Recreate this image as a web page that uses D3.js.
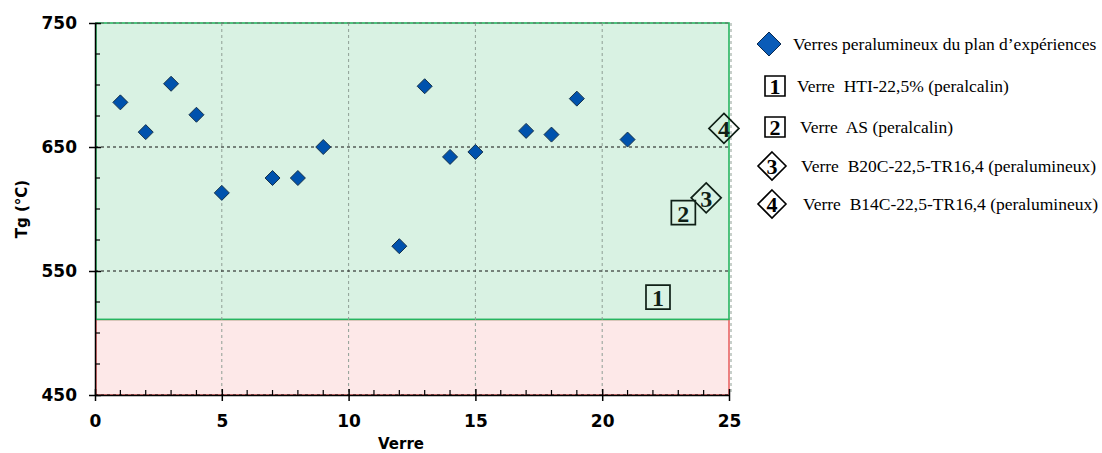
<!DOCTYPE html>
<html>
<head>
<meta charset="utf-8">
<script src="https://cdn.jsdelivr.net/npm/d3@7"></script>
<style>
  html, body { margin: 0; padding: 0; background: #fff; }
  svg { display: block; }
</style>
</head>
<body>
<svg id="chart" width="1102" height="453"></svg>
<script>
// ---- data ----
const verres = [1, 2, 3, 4, 5, 7, 8, 9, 12, 13, 14, 15, 17, 18, 19, 21];
const tgValues = [686, 662, 701, 676, 613, 625, 625, 650, 570, 699, 642, 646, 663, 660, 689, 656];

const refLabels = ["1", "2", "3", "4"];
const refX = [22.2, 23.2, 24.1, 24.8];
const refTg = [529, 597, 609, 665];
const refShapes = ["square", "square", "diamond", "diamond"];

const legendTexts = [
  "Verres peralumineux du plan d\u2019expériences",
  "Verre  HTI-22,5% (peralcalin)",
  "Verre  AS (peralcalin)",
  "Verre  B20C-22,5-TR16,4 (peralumineux)",
  "Verre  B14C-22,5-TR16,4 (peralumineux)"
];

const xTicks = [0, 5, 10, 15, 20, 25];
const yTicks = [450, 550, 650, 750];
const greenZone = [511, 750];
const redZone = [450, 511];

// ---- layout ----
const svg = d3.select("#chart");
const mLeft = 95, mRight = 729, mTop = 23, mBottom = 395;
const x = d3.scaleLinear().domain([0, 25]).range([mLeft, mRight]);
const y = d3.scaleLinear().domain([450, 750]).range([mBottom, mTop]);

const tickFont = "'DejaVu Sans', Verdana, sans-serif";
const serif = "'Liberation Serif', 'Times New Roman', serif";

// zones
svg.append("rect")
  .attr("x", x(0) + 1).attr("y", y(redZone[1]))
  .attr("width", x(25) - x(0) - 1).attr("height", y(redZone[0]) - y(redZone[1]))
  .attr("fill", "#fde8e8").attr("stroke", "#ea7474").attr("stroke-width", 1.8);
svg.append("rect")
  .attr("x", x(0) + 1).attr("y", y(greenZone[1]))
  .attr("width", x(25) - x(0) - 1).attr("height", y(greenZone[0]) - y(greenZone[1]))
  .attr("fill", "#d9f2e3").attr("stroke", "#26b560").attr("stroke-width", 1.6);

// grid lines
const grid = svg.append("g");
grid.selectAll("line.v").data([5, 10, 15, 20, 25]).join("line")
  .attr("x1", d => x(d) + (d === 25 ? 2 : 0)).attr("x2", d => x(d) + (d === 25 ? 2 : 0))
  .attr("y1", mTop).attr("y2", mBottom)
  .attr("stroke", "#8f9f95").attr("stroke-width", 1).attr("stroke-dasharray", "3,3");
grid.selectAll("line.h").data([450, 550, 650, 750]).join("line")
  .attr("x1", mLeft).attr("x2", mRight)
  .attr("y1", d => y(d)).attr("y2", d => y(d))
  .attr("stroke", d => d === 750 ? "#666" : "#111").attr("stroke-width", 1)
  .attr("stroke-dasharray", "3,3");

// axes
const yAxis = d3.axisLeft(y).tickValues(yTicks).tickSizeInner(6).tickSizeOuter(0).tickPadding(12);
const gy = svg.append("g").attr("transform", `translate(${mLeft},0)`).call(yAxis);
gy.select(".domain").attr("stroke", "#000").attr("stroke-width", 1.5);
gy.selectAll(".tick line").attr("x1", -6).attr("x2", 6).attr("stroke-width", 1.5);
gy.selectAll(".tick text").attr("font-family", tickFont).attr("font-weight", "bold")
  .attr("font-size", 17).attr("fill", "#000");

// minor y ticks
svg.append("g").selectAll("line").data(d3.range(475, 750, 25).filter(v => v % 100 !== 50))
  .join("line")
  .attr("x1", mLeft).attr("x2", mLeft + 5)
  .attr("y1", d => y(d)).attr("y2", d => y(d))
  .attr("stroke", "#000").attr("stroke-width", 1.2);

const xAxis = d3.axisBottom(x).tickValues(xTicks).tickSizeInner(6).tickSizeOuter(0).tickPadding(14);
const gx = svg.append("g").attr("transform", `translate(0,${mBottom})`).call(xAxis);
gx.select(".domain").attr("stroke", "#000").attr("stroke-width", 1.5);
gx.selectAll(".tick line").attr("y1", -6).attr("y2", 6).attr("stroke-width", 1.5);
gx.selectAll(".tick text").attr("font-family", tickFont).attr("font-weight", "bold")
  .attr("font-size", 17).attr("fill", "#000");

// minor x ticks
svg.append("g").selectAll("line").data(d3.range(1, 25).filter(v => v % 5 !== 0))
  .join("line")
  .attr("x1", d => x(d)).attr("x2", d => x(d))
  .attr("y1", mBottom).attr("y2", mBottom - 5)
  .attr("stroke", "#000").attr("stroke-width", 1.2);

// axis titles
svg.append("text")
  .attr("transform", `translate(22,${(mTop + mBottom) / 2}) rotate(-90)`)
  .attr("text-anchor", "middle").attr("dominant-baseline", "central")
  .attr("font-family", tickFont).attr("font-weight", "bold").attr("font-size", 15)
  .text("Tg (°C)");
svg.append("text")
  .attr("x", (mLeft + mRight) / 2 - 11).attr("y", 444)
  .attr("text-anchor", "middle").attr("dominant-baseline", "central")
  .attr("font-family", tickFont).attr("font-weight", "bold").attr("font-size", 15)
  .text("Verre");

// data points
const diamond = (r) => `M0,${-r}L${r},0L0,${r}L${-r},0Z`;
svg.append("g").selectAll("path").data(verres.map((v, i) => [v, tgValues[i]]))
  .join("path")
  .attr("transform", d => `translate(${x(d[0])},${y(d[1])})`)
  .attr("d", diamond(7.5))
  .attr("fill", "#0052ad").attr("stroke", "#16324a").attr("stroke-width", 1);

// reference glasses
const refG = svg.append("g").selectAll("g").data(refLabels.map((l, i) => ({
  l, x: refX[i], v: refTg[i], s: refShapes[i]
}))).join("g").attr("transform", d => `translate(${x(d.x)},${y(d.v)})`);
refG.append("path")
  .attr("d", d => d.s === "square" ? "M-12,-12H12V12H-12Z" : diamond(15))
  .attr("fill", "none").attr("stroke", "#0f1f16").attr("stroke-width", 1.7);
refG.append("text")
  .attr("text-anchor", "middle").attr("y", 9)
  .attr("font-family", serif).attr("font-weight", "bold").attr("font-size", 24)
  .attr("fill", "#0f1f16")
  .text(d => d.l);

// legend
const legRows = [44, 86, 127, 166, 204];
const legMarkX = [769, 775, 775, 772, 772];
const legTextX = [793, 797, 800, 801, 803];
const leg = svg.append("g");
legendTexts.forEach((t, i) => {
  const g = leg.append("g").attr("transform", `translate(${legMarkX[i]},${legRows[i]})`);
  if (i === 0) {
    g.append("path").attr("d", diamond(12)).attr("fill", "#0a5cb8").attr("stroke", "#0a2a50").attr("stroke-width", 1);
  } else if (i <= 2) {
    g.append("path").attr("d", "M-10,-10H10V10H-10Z").attr("fill", "#fff").attr("stroke", "#000").attr("stroke-width", 1.6);
    g.append("text").attr("text-anchor", "middle").attr("y", 8)
      .attr("font-family", serif).attr("font-weight", "bold").attr("font-size", 22).text(refLabels[i - 1]);
  } else {
    g.append("path").attr("d", diamond(14)).attr("fill", "#fff").attr("stroke", "#000").attr("stroke-width", 1.6);
    g.append("text").attr("text-anchor", "middle").attr("y", 8)
      .attr("font-family", serif).attr("font-weight", "bold").attr("font-size", 22).text(refLabels[i - 1]);
  }
  g.append("text")
    .attr("x", legTextX[i] - legMarkX[i]).attr("y", 0)
    .attr("dominant-baseline", "central")
    .attr("font-family", serif).attr("font-size", 17.5).attr("fill", "#000")
    .attr("xml:space", "preserve")
    .style("white-space", "pre")
    .text(t);
});
</script>
</body>
</html>
